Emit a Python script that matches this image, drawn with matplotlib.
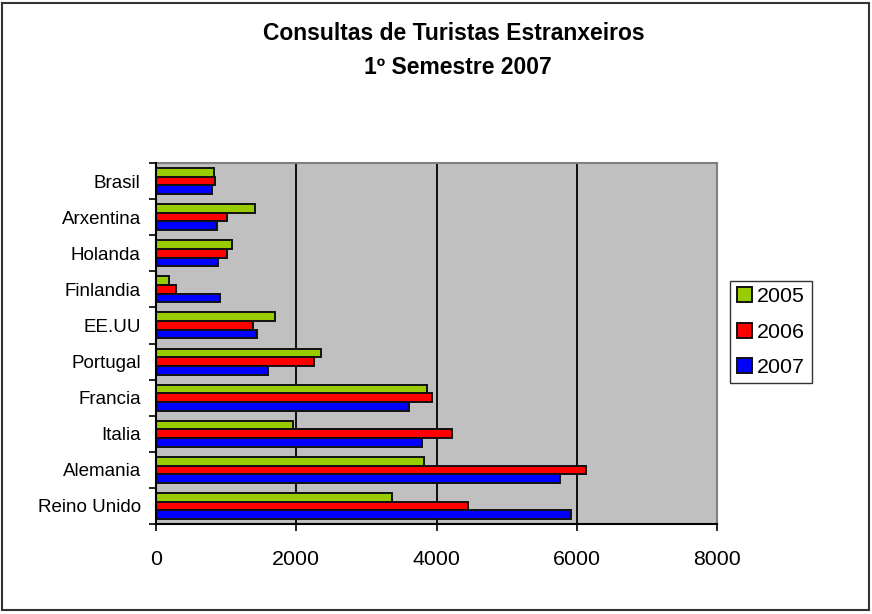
import numpy as np
import matplotlib
matplotlib.use("Agg")
import matplotlib.pyplot as plt
from matplotlib.patches import Rectangle

plt.rcParams['font.family'] = ['Liberation Sans', 'DejaVu Sans']

paises = ['Reino Unido', 'Alemania', 'Italia', 'Francia', 'Portugal',
          'EE.UU', 'Finlandia', 'Holanda', 'Arxentina', 'Brasil']
v2005 = [3370, 3820, 1955, 3860, 2355, 1690, 180, 1080, 1410, 820]
v2006 = [4455, 6130, 4215, 3935, 2255, 1385, 280, 1010, 1010, 845]
v2007 = [5915, 5755, 3800, 3605, 1600, 1435, 915, 890, 875, 800]
anos = ['2005', '2006', '2007']
cores = ['#99CC00', '#FF0000', '#0000FF']

fig = plt.figure(figsize=(8.72, 6.14), dpi=100)
ax = fig.add_axes([156/872, 1-524/614, (717-156)/872, (524-163)/614])
ax.set_facecolor('#C0C0C0')

y = np.arange(len(paises))
h = 0.24
series = [v2005, v2006, v2007]
for i, (vals, c, lab) in enumerate(zip(series, cores, anos)):
    ax.barh(y + (1 - i)*h, vals, height=h, color=c, edgecolor='#111111',
            linewidth=1.4, label=lab, zorder=3)

ax.set_xlim(0, 8000)
ax.set_ylim(-0.5, len(paises) - 0.5)
ax.set_xticks([0, 2000, 4000, 6000, 8000])
ax.tick_params(axis='x', labelsize=15.4, direction='out', length=5, width=1.2, pad=14)
ax.set_yticks(y)
ax.set_yticklabels(paises, fontsize=13.5)
ax.set_yticks(np.arange(-0.5, len(paises)), minor=True)
ax.tick_params(axis='y', which='major', length=0, pad=11)
ax.tick_params(axis='y', which='minor', length=5, width=1.2, direction='out')
ax.grid(axis='x', color='black', linewidth=1.3, zorder=1)

for s in ['top', 'right']:
    ax.spines[s].set_color('#808080')
    ax.spines[s].set_linewidth(1.5)
for s in ['left', 'bottom']:
    ax.spines[s].set_color('black')
    ax.spines[s].set_linewidth(1.5)
    ax.spines[s].set_zorder(4)

fig.text(454/872, 1-33/614, 'Consultas de Turistas Estranxeiros',
         ha='center', va='center', fontsize=16.5, fontweight='bold')
fig.text(458/872, 1-67/614, '1º Semestre 2007',
         ha='center', va='center', fontsize=16.5, fontweight='bold')

leg = fig.legend(loc='center', bbox_to_anchor=(771/872, 1-332/614),
                 fontsize=15.4, frameon=True, fancybox=False,
                 handlelength=0.7, handleheight=0.7, handletextpad=0.25,
                 labelspacing=0.75, borderpad=0.3, borderaxespad=0)
leg.get_frame().set_edgecolor('black')
leg.get_frame().set_linewidth(1.0)

fig.patches.append(Rectangle((2/872, 4/614), 867/872, 607/614,
                             transform=fig.transFigure, fill=False,
                             edgecolor='#333333', linewidth=1.5))

fig.savefig('out.png', dpi=100)
